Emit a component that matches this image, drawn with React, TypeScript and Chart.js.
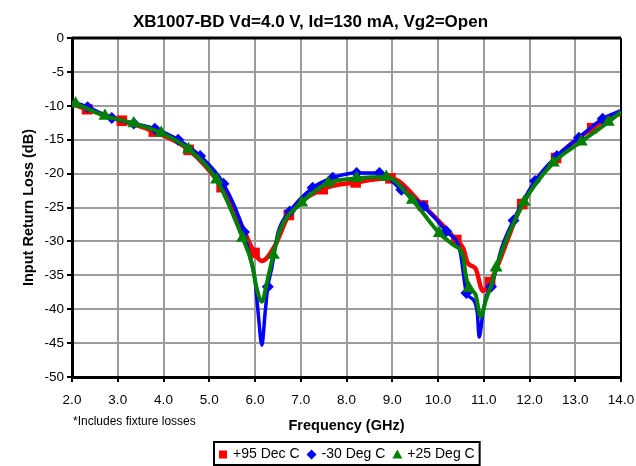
import { useEffect, useRef } from 'react';
import { Chart, registerables } from 'chart.js';

Chart.register(...registerables);

const chartTitle = 'XB1007-BD Vd=4.0 V, Id=130 mA, Vg2=Open';
const xAxisTitle = 'Frequency (GHz)';
const yAxisTitle = 'Input Return Loss (dB)';
const footnote = '*Includes fixture losses';
const seriesLabels = ['+95 Dec C', '-30 Deg C', '+25 Deg C'];

// x axis: 2.0 .. 14.0 GHz, y axis: -50 .. 0 dB
const xTickValues = [2, 3, 4, 5, 6, 7, 8, 9, 10, 11, 12, 13, 14];
const yTickValues = [0, -5, -10, -15, -20, -25, -30, -35, -40, -45, -50];

// +95 Dec C (red squares)
const redMarkerFreq = [2.33, 3.09, 3.79, 4.55, 5.27, 5.99, 6.74, 7.48, 8.2, 8.96, 9.67, 10.4, 11.14, 11.84, 12.58, 13.37];
const redMarkerDb = [-10.5, -12.2, -13.8, -16.5, -22.0, -31.7, -26.1, -22.3, -21.3, -20.7, -24.7, -29.8, -36.0, -24.5, -17.7, -13.3];
const redTraceFreq = [2.0, 5.72, 6.15, 6.43, 10.55, 10.65, 10.82, 10.98, 13.7, 14.0];
const redTraceDb = [-9.7, -27.8, -32.9, -30.7, -31.0, -33.2, -34.0, -37.3, -12.0, -11.1];

// -30 Deg C (blue diamonds)
const blueMarkerFreq = [2.34, 2.87, 3.35, 3.81, 4.32, 4.8, 5.31, 5.76, 6.28, 6.76, 7.26, 7.7, 8.22, 8.72, 9.2, 9.68, 10.18, 10.62, 11.16, 11.65, 12.12, 12.6, 13.08, 13.6];
const blueMarkerDb = [-10.2, -11.8, -12.6, -13.4, -15.0, -17.4, -21.5, -28.6, -36.7, -25.6, -22.1, -20.6, -19.9, -19.9, -22.4, -24.8, -28.5, -37.6, -36.7, -26.9, -21.1, -17.4, -14.7, -11.9];
const blueTraceFreq = [2.0, 5.89, 6.0, 6.07, 6.15, 6.22, 6.37, 6.5, 10.49, 10.56, 10.77, 10.86, 10.9, 10.98, 11.07, 11.4, 14.0];
const blueTraceDb = [-9.4, -32.3, -35.7, -40.6, -45.3, -40.6, -33.8, -28.8, -31.7, -35.0, -38.6, -40.6, -44.1, -40.6, -37.8, -30.8, -10.7];

// +25 Deg C (green triangles)
const greenMarkerFreq = [2.08, 2.72, 3.35, 3.95, 4.55, 5.16, 5.73, 6.4, 7.02, 7.6, 8.22, 8.87, 9.44, 10.03, 10.68, 11.27, 11.88, 12.52, 13.13, 13.72];
const greenMarkerDb = [-9.7, -11.5, -12.6, -14.0, -16.4, -20.9, -29.5, -32.0, -24.3, -21.4, -20.7, -20.5, -23.9, -28.8, -36.9, -33.9, -24.2, -18.4, -15.3, -12.4];
const greenTraceFreq = [2.0, 5.93, 6.03, 6.15, 6.26, 6.55, 10.33, 10.55, 10.6, 10.82, 10.93, 11.05, 11.2, 14.0];
const greenTraceDb = [-9.5, -33.2, -36.7, -38.9, -36.1, -28.3, -30.5, -32.3, -34.7, -37.8, -41.1, -38.6, -35.7, -10.9];

type Pt = { x: number; y: number; m: boolean };

function buildSeries(mf: number[], md: number[], tf: number[], td: number[]): Pt[] {
  const pts: Pt[] = [];
  mf.forEach((f, i) => pts.push({ x: f, y: md[i], m: true }));
  tf.forEach((f, i) => pts.push({ x: f, y: td[i], m: false }));
  pts.sort((a, b) => a.x - b.x);
  return pts;
}

const FONT = "'Liberation Sans', Arial, Helvetica, sans-serif";

function drawMarker(ctx: CanvasRenderingContext2D, style: string, x: number, y: number, s: number, color: string) {
  ctx.save();
  ctx.fillStyle = color;
  ctx.beginPath();
  if (style === 'rect') {
    ctx.rect(x - s / 2, y - s / 2, s, s);
  } else if (style === 'rectRot') {
    ctx.moveTo(x, y - s / 2 - 1);
    ctx.lineTo(x + s / 2 + 1, y);
    ctx.lineTo(x, y + s / 2 + 1);
    ctx.lineTo(x - s / 2 - 1, y);
    ctx.closePath();
  } else {
    ctx.moveTo(x, y - s / 2 - 1);
    ctx.lineTo(x + s / 2 + 1, y + s / 2);
    ctx.lineTo(x - s / 2 - 1, y + s / 2);
    ctx.closePath();
  }
  ctx.fill();
  ctx.restore();
}

const framePlugin = {
  id: 'frame',
  beforeDatasetsDraw(chart: any) {
    const { ctx, chartArea: a } = chart;
    ctx.save();
    ctx.strokeStyle = '#000';
    ctx.lineWidth = 3;
    ctx.beginPath();
    ctx.moveTo(a.left, a.top);
    ctx.lineTo(a.right, a.top);
    ctx.stroke();
    ctx.lineWidth = 2;
    ctx.beginPath();
    ctx.moveTo(a.right, a.top);
    ctx.lineTo(a.right, a.bottom);
    ctx.stroke();
    ctx.restore();
  },
};

const extrasPlugin = {
  id: 'extras',
  afterDraw(chart: any) {
    const { ctx, chartArea: a } = chart;
    ctx.save();
    // footnote
    ctx.fillStyle = '#000';
    ctx.font = `12px ${FONT}`;
    ctx.textAlign = 'left';
    ctx.textBaseline = 'middle';
    ctx.fillText(footnote, a.left + 1, a.bottom + 45);

    // legend
    ctx.font = `14px ${FONT}`;
    const items = chart.data.datasets.map((ds: any) => ({
      text: ds.label,
      color: ds.backgroundColor,
      style: ds.pointStyle,
    }));
    const mSize = 8;
    const gapMT = 6;
    const gapItems = 8;
    const pad = 5;
    let total = pad * 2;
    items.forEach((it: any, i: number) => {
      it.w = ctx.measureText(it.text).width;
      total += mSize + gapMT + it.w + (i < items.length - 1 ? gapItems : 0);
    });
    const cx = (a.left + a.right) / 2;
    const boxLeft = Math.round(cx - total / 2);
    const boxTop = a.bottom + 65;
    const boxH = 23;
    ctx.strokeStyle = '#000';
    ctx.lineWidth = 2;
    ctx.strokeRect(boxLeft, boxTop, total, boxH);
    const midY = boxTop + boxH / 2 + 1;
    let x = boxLeft + pad;
    items.forEach((it: any) => {
      drawMarker(ctx, it.style, x + mSize / 2, midY, mSize, it.color);
      x += mSize + gapMT;
      ctx.fillStyle = '#000';
      ctx.fillText(it.text, x, midY);
      x += it.w + gapItems;
    });
    ctx.restore();
  },
};

export default function App() {
  const ref = useRef<HTMLCanvasElement | null>(null);

  useEffect(() => {
    document.body.style.margin = '0';
    if (!ref.current) return;
    const mk = (label: string, color: string, style: string, r: number, lw: number, data: Pt[]) => ({
      label,
      data,
      borderColor: color,
      backgroundColor: color,
      pointBackgroundColor: color,
      pointBorderColor: color,
      pointBorderWidth: 0,
      pointStyle: style,
      pointRadius: (c: any) => (c.raw && c.raw.m ? r : 0),
      borderWidth: lw,
      cubicInterpolationMode: 'monotone' as const,
      fill: false,
    });
    const datasets = [
      mk(seriesLabels[0], '#FF0000', 'rect', 7.5, 4.5, buildSeries(redMarkerFreq, redMarkerDb, redTraceFreq, redTraceDb)),
      mk(seriesLabels[1], '#0000FF', 'rectRot', 6, 3.5, buildSeries(blueMarkerFreq, blueMarkerDb, blueTraceFreq, blueTraceDb)),
      mk(seriesLabels[2], '#008000', 'triangle', 7.5, 4, buildSeries(greenMarkerFreq, greenMarkerDb, greenTraceFreq, greenTraceDb)),
    ];
    // draw red at bottom, green on top
    (datasets[0] as any).order = 3;
    (datasets[1] as any).order = 2;
    (datasets[2] as any).order = 1;

    const chart = new Chart(ref.current, {
      type: 'line',
      data: { datasets: datasets as any },
      options: {
        responsive: false,
        animation: false,
        events: [],
        layout: { padding: { left: 0, right: 15, top: 0, bottom: 0 } },
        plugins: {
          legend: { display: false },
          tooltip: { enabled: false },
          title: {
            display: true,
            text: chartTitle,
            color: '#000',
            font: { family: FONT, size: 17, weight: 'bold' },
            padding: { top: 12, bottom: 5.6 },
          },
        },
        scales: {
          x: {
            type: 'linear',
            min: xTickValues[0],
            max: xTickValues[xTickValues.length - 1],
            afterFit: (s: any) => { s.height = 89; },
            afterBuildTicks: (s: any) => { s.ticks = xTickValues.map((v) => ({ value: v })); },
            ticks: {
              color: '#000',
              font: { family: FONT, size: 13.5, lineHeight: 2.5 },
              padding: 1,
              maxRotation: 0,
              callback: (v: any) => Number(v).toFixed(1),
            },
            grid: { color: '#9C9C9C', lineWidth: 2, tickColor: '#000', tickLength: 5, tickWidth: 2 },
            border: { color: '#000', width: 3 },
            title: {
              display: true,
              text: xAxisTitle,
              color: '#000',
              font: { family: FONT, size: 14.5, weight: 'bold' },
              padding: { top: 0, bottom: 31 },
            },
          },
          y: {
            type: 'linear',
            min: yTickValues[yTickValues.length - 1],
            max: yTickValues[0],
            afterFit: (s: any) => { s.width = 72; },
            afterBuildTicks: (s: any) => { s.ticks = yTickValues.map((v) => ({ value: v })); },
            ticks: {
              color: '#000',
              font: { family: FONT, size: 13.5 },
              padding: 3,
              callback: (v: any) => String(v),
            },
            grid: { color: '#9C9C9C', lineWidth: 2, tickColor: '#000', tickLength: 5, tickWidth: 2 },
            border: { color: '#000', width: 3 },
            title: {
              display: true,
              text: yAxisTitle,
              color: '#000',
              font: { family: FONT, size: 14.5, weight: 'bold' },
              padding: { top: 20, bottom: 0 },
            },
          },
        },
      },
      plugins: [framePlugin, extrasPlugin],
    });
    return () => chart.destroy();
  }, []);

  return (
    <div style={{ width: 636, height: 466 }}>
      <canvas ref={ref} width={636} height={466} style={{ display: 'block' }} />
    </div>
  );
}
